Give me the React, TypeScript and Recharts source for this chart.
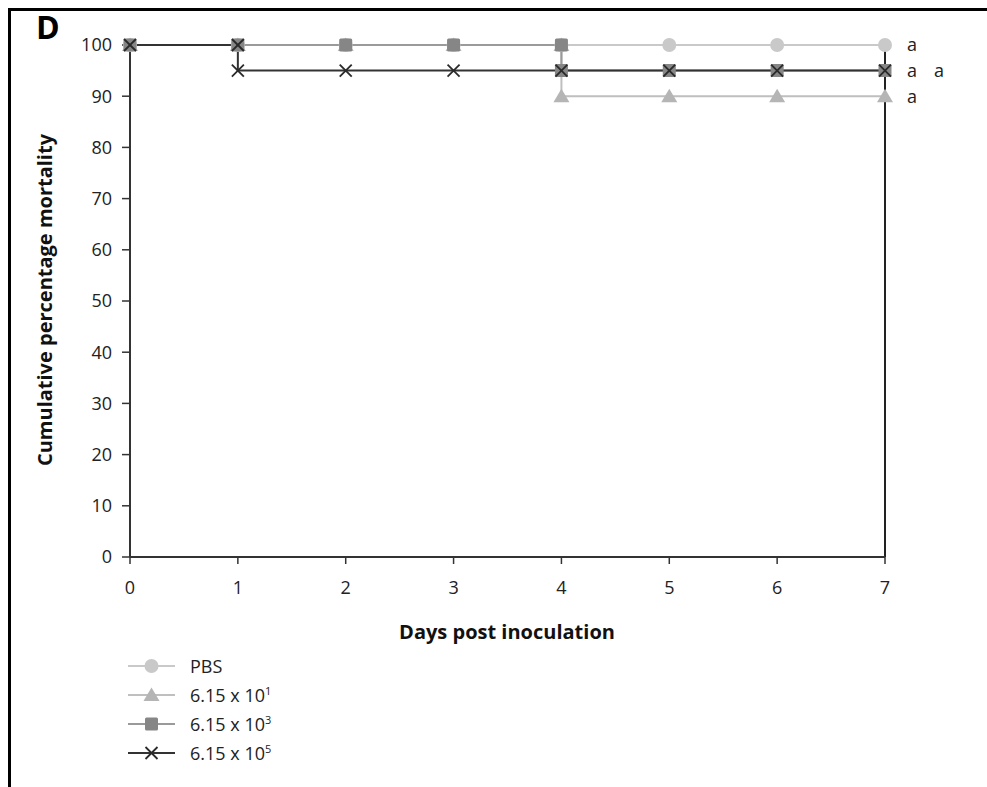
import React from 'react';
import { LineChart, Line, XAxis, YAxis, Legend, Customized, ReferenceDot } from 'recharts';

// ---- data ----
const dayTicks = [0, 1, 2, 3, 4, 5, 6, 7];
const mortalityTicks = [0, 10, 20, 30, 40, 50, 60, 70, 80, 90, 100];

const pbsDays = [0, 1, 2, 3, 4, 5, 6, 7];
const pbsValues = [100, 100, 100, 100, 100, 100, 100, 100];

const dose1Days = [0, 1, 2, 3, 4, 4, 5, 6, 7];
const dose1Values = [100, 100, 100, 100, 100, 90, 90, 90, 90];

const dose3Days = [0, 1, 2, 3, 4, 4, 5, 6, 7];
const dose3Values = [100, 100, 100, 100, 100, 95, 95, 95, 95];

const dose5Days = [0, 1, 1, 2, 3, 4, 5, 6, 7];
const dose5Values = [100, 100, 95, 95, 95, 95, 95, 95, 95];

const closeDays = [7, 7];
const closeValues = [0, 100];

const seriesNames = ['PBS', '6.15 x 10', '6.15 x 10', '6.15 x 10'];
const seriesExponents = ['', '1', '3', '5'];

const sigLetters = [
  { day: 7, value: 100, letters: ['a'] },
  { day: 7, value: 95, letters: ['a', 'a'] },
  { day: 7, value: 90, letters: ['a'] },
];

const toRows = (days: number[], vals: number[]) => days.map((d, i) => ({ day: d, v: vals[i] }));

const pbsData = toRows(pbsDays, pbsValues);
const dose1Data = toRows(dose1Days, dose1Values);
const dose3Data = toRows(dose3Days, dose3Values);
const dose5Data = toRows(dose5Days, dose5Values);
const closeData = toRows(closeDays, closeValues);

// ---- styles ----
const C_PBS = '#c9c9c9';
const C_D1 = '#b5b5b5';
const C_D1_LINE = '#bfbfbf';
const C_D3 = '#868686';
const C_D3_LINE = '#9a9a9a';
const C_D5 = '#2a2a2a';
const C_D5_LINE = '#333333';
const FONT = '"Open Sans", "DejaVu Sans", sans-serif';

const CircleMark = ({ cx, cy }: any) => <circle cx={cx} cy={cy} r={7} fill={C_PBS} />;
const TriMark = ({ cx, cy }: any) => (
  <polygon points={`${cx},${cy - 7.5} ${cx - 8},${cy + 6} ${cx + 8},${cy + 6}`} fill={C_D1} />
);
const SquareMark = ({ cx, cy }: any) => (
  <rect x={cx - 6.5} y={cy - 6.5} width={13} height={13} rx={1.5} fill={C_D3} />
);
const XMark = ({ cx, cy }: any) => (
  <g stroke={C_D5} strokeWidth={1.8}>
    <line x1={cx - 6} y1={cy - 6} x2={cx + 6} y2={cy + 6} />
    <line x1={cx - 6} y1={cy + 6} x2={cx + 6} y2={cy - 6} />
  </g>
);

const dotOf = (Comp: any) => (props: any) => <Comp key={`d-${props.index}`} cx={props.cx} cy={props.cy} />;

const legendMarks = [CircleMark, TriMark, SquareMark, XMark];
const legendLineColors = [C_PBS, C_D1_LINE, C_D3_LINE, C_D5_LINE];

const LegendContent = () => (
  <div style={{ fontFamily: FONT, fontSize: 18, color: '#222' }}>
    {seriesNames.map((name, i) => {
      const Mark = legendMarks[i];
      return (
        <div key={i} style={{ display: 'flex', alignItems: 'center', height: 29 }}>
          <svg width={50} height={20} style={{ display: 'block' }}>
            <line x1={0} y1={10} x2={47} y2={10} stroke={legendLineColors[i]} strokeWidth={2} />
            <Mark cx={23.5} cy={10} />
          </svg>
          <span style={{ marginLeft: 12, lineHeight: '20px' }}>
            {name}
            {seriesExponents[i] && (
              <sup style={{ fontSize: 11, verticalAlign: 'top', position: 'relative', top: -4 }}>
                {seriesExponents[i]}
              </sup>
            )}
          </span>
        </div>
      );
    })}
  </div>
);

const Decorations = () => (
  <g>
    <line x1={10} y1={9.5} x2={987} y2={9.5} stroke="#000" strokeWidth={3} />
    <line x1={9.5} y1={8} x2={9.5} y2={787} stroke="#000" strokeWidth={3} />
    <text x={36} y={39} fontFamily={FONT} fontWeight={700} fontSize={32} fill="#000">D</text>
    <text
      x={507}
      y={639}
      textAnchor="middle"
      fontFamily={FONT}
      fontWeight={700}
      fontSize={20}
      fill="#111"
    >
      Days post inoculation
    </text>
    <text
      transform="translate(52, 300) rotate(-90)"
      textAnchor="middle"
      fontFamily={FONT}
      fontWeight={700}
      fontSize={20}
      fill="#111"
    >
      Cumulative percentage mortality
    </text>
  </g>
);

export default function App() {
  return (
    <div style={{ position: 'absolute', left: 0, top: 0, width: 987, height: 787, background: '#fff' }}>
      <LineChart width={987} height={787} margin={{ top: 45, right: 102, bottom: 0, left: 0 }}>
        <XAxis
          type="number"
          dataKey="day"
          domain={[0, 7]}
          ticks={dayTicks}
          height={114}
          axisLine={{ stroke: '#333', strokeWidth: 2 }}
          tickLine={{ stroke: '#333', strokeWidth: 1.5 }}
          tickSize={7}
          tickMargin={17}
          tick={{ fontFamily: FONT, fontSize: 18, fill: '#222' }}
          allowDuplicatedCategory
        />
        <YAxis
          type="number"
          dataKey="v"
          domain={[0, 100]}
          ticks={mortalityTicks}
          width={130}
          axisLine={{ stroke: '#333', strokeWidth: 2 }}
          tickLine={{ stroke: '#333', strokeWidth: 1.5 }}
          tickSize={8}
          tickMargin={10}
          tick={{ fontFamily: FONT, fontSize: 18, fill: '#222' }}
        />
        <Line
          data={closeData}
          dataKey="v"
          stroke="#222"
          strokeWidth={2}
          dot={false}
          isAnimationActive={false}
          legendType="none"
        />
        <Line
          data={pbsData}
          dataKey="v"
          name="PBS"
          stroke={C_PBS}
          strokeWidth={2}
          dot={dotOf(CircleMark)}
          isAnimationActive={false}
        />
        <Line
          data={dose1Data}
          dataKey="v"
          name="6.15 x 10^1"
          stroke={C_D1_LINE}
          strokeWidth={2}
          dot={dotOf(TriMark)}
          isAnimationActive={false}
        />
        <Line
          data={dose3Data}
          dataKey="v"
          name="6.15 x 10^3"
          stroke={C_D3_LINE}
          strokeWidth={2}
          dot={dotOf(SquareMark)}
          isAnimationActive={false}
        />
        <Line
          data={dose5Data}
          dataKey="v"
          name="6.15 x 10^5"
          stroke={C_D5_LINE}
          strokeWidth={2}
          dot={dotOf(XMark)}
          isAnimationActive={false}
        />
        {sigLetters.flatMap((s, i) =>
          s.letters.map((letter, j) => (
            <ReferenceDot
              key={`${i}-${j}`}
              x={s.day}
              y={s.value}
              r={0}
              stroke="none"
              fill="none"
              ifOverflow="visible"
              label={{
                value: letter,
                position: 'right',
                offset: 22 + j * 27,
                fontFamily: FONT,
                fontSize: 18,
                fill: '#222',
              }}
            />
          ))
        )}
        <Legend
          layout="vertical"
          content={<LegendContent />}
          wrapperStyle={{ position: 'absolute', left: 128, top: 651, width: 300 }}
        />
        <Customized component={<Decorations />} />
      </LineChart>
    </div>
  );
}
